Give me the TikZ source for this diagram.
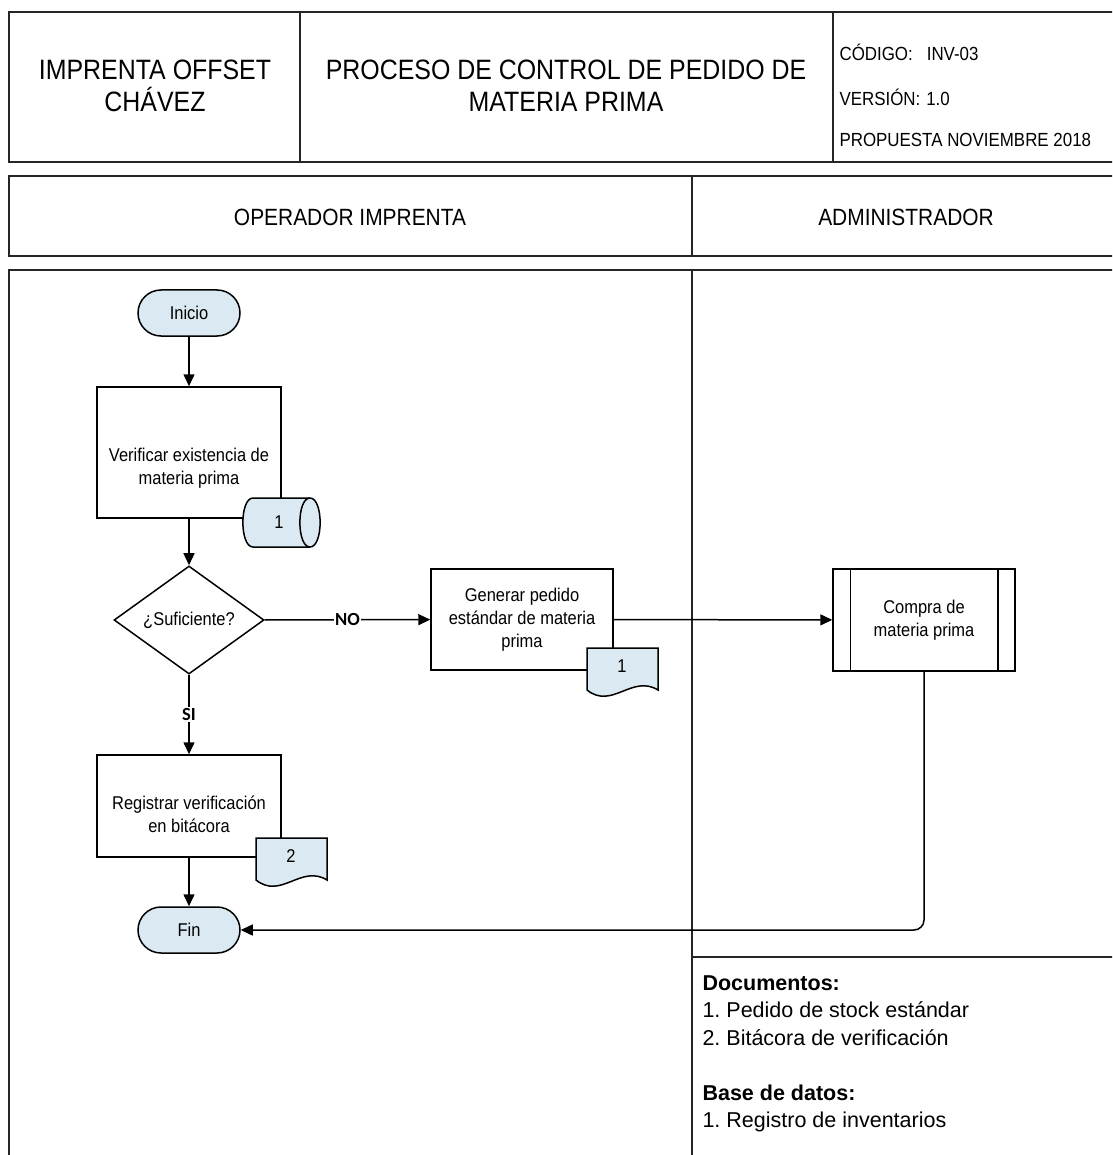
\documentclass[tikz,border=0pt]{standalone}
\usepackage{fontspec}
\setmainfont{Liberation Sans}
\newfontfamily\narrowfont[FakeStretch=0.89]{Liberation Sans}
\newfontfamily\labelfont{Carlito}
\usetikzlibrary{arrows.meta,shapes.geometric}
\definecolor{shapefill}{RGB}{219,234,242}
\frenchspacing

\begin{document}
\begin{tikzpicture}[x=1pt,y=-1pt,
  frame/.style={line width=1.6pt, draw=black!85},
  shape line/.style={line width=1.5pt, draw=black},
  flow/.style={line width=1.5pt, -{Triangle[length=12pt,width=11pt]}},
  txt/.style={font=\narrowfont\fontsize{18.5}{23}\selectfont, align=center},
  procbox/.style={shape line, rectangle, fill=white, inner sep=0pt, txt},
  terminal/.style={shape line, rectangle, rounded corners=23pt, fill=shapefill,
    minimum width=102pt, minimum height=46pt, inner sep=0pt, txt},
  decision/.style={shape line, diamond, fill=white, minimum width=150pt,
    minimum height=100pt, inner sep=0pt, txt},
  branch/.style={font=\labelfont\bfseries\fontsize{18.5}{20}\selectfont, fill=white, inner sep=1pt},
  headtxt/.style={font=\narrowfont\fontsize{28}{32}\selectfont, align=center},
  infotxt/.style={font=\narrowfont\fontsize{19}{22}\selectfont, anchor=west},
  lanetxt/.style={font=\narrowfont\fontsize{23.5}{26}\selectfont},
  notetxt/.style={font=\fontsize{21.5}{26}\selectfont, anchor=base west},
  docsym/.pic={
    \draw[shape line, fill=shapefill] (0,0) -- (0,42)
      .. controls (25,62) and (45,26) .. (71,42) -- (71,0) -- cycle;
  },
]
\useasboundingbox (0,0) rectangle (1112,1155);
\clip (0,0) rectangle (1112,1155);

% ---------- header block ----------
\draw[frame] (9,12) rectangle (1130,162);
\draw[frame] (300,12) -- (300,162);
\draw[frame] (833,12) -- (833,162);
\node[headtxt] (company) at (155,86) {IMPRENTA OFFSET\\CHÁVEZ};
\node[headtxt] (title) at (566,86) {PROCESO DE CONTROL DE PEDIDO DE\\MATERIA PRIMA};
\node[infotxt] (code) at (836,52) {CÓDIGO:\hspace{14pt}INV-03};
\node[infotxt] (version) at (836,97) {VERSIÓN:\hspace{6pt}1.0};
\node[infotxt] (proposal) at (836,140) {PROPUESTA NOVIEMBRE 2018};

% ---------- lane headers ----------
\draw[frame] (9,176) rectangle (1130,256);
\draw[frame] (692,176) -- (692,256);
\node[lanetxt] (lane1) at (350,217) {OPERADOR IMPRENTA};
\node[lanetxt] (lane2) at (906,217) {ADMINISTRADOR};

% ---------- lane bodies ----------
\draw[frame] (9,270) rectangle (1130,1170);
\draw[frame] (692,270) -- (692,1170);
\draw[frame] (692,957) -- (1130,957);

% ---------- flow shapes ----------
\node[terminal] (inicio) at (189,313) {Inicio};

\node[procbox, minimum width=184pt, minimum height=131pt] (verif) at (189,452.5) {};
\node[txt] (verifText) at (189,468) {Verificar existencia de\\materia prima};

% stored data (horizontal cylinder)
\draw[shape line, fill=shapefill] (253,498) -- (310,498)
  .. controls (323.5,498) and (323.5,547) .. (310,547) -- (253,547)
  .. controls (239.5,547) and (239.5,498) .. (253,498) -- cycle;
\draw[shape line] (310,498) .. controls (296.5,498) and (296.5,547) .. (310,547);
\node[txt] (db1) at (279,522) {1};

\node[decision] (dec) at (189,620) {¿Suficiente?};

\node[procbox, minimum width=182pt, minimum height=101pt] (gen) at (522,619.5)
  {Generar pedido\\estándar de materia\\prima};
\pic at (587,648) {docsym};
\node[txt] (doc1) at (622,666) {1};

\node[procbox, minimum width=182pt, minimum height=102pt] (compra) at (924,620)
  {Compra de\\materia prima};
\draw[shape line] ([xshift=18pt]compra.north west) -- ([xshift=18pt]compra.south west);
\draw[shape line] ([xshift=-18pt]compra.north east) -- ([xshift=-18pt]compra.south east);

\node[procbox, minimum width=184pt, minimum height=102pt] (reg) at (189,806) {};
\node[txt] (regText) at (189,814.5) {Registrar verificación\\en bitácora};
\pic at (256,838) {docsym};
\node[txt] (doc2) at (291,856) {2};

\node[terminal] (fin) at (189,930) {Fin};

% ---------- connectors ----------
\draw[flow] (inicio) -- (verif);
\draw[flow] (verif) -- (dec);
\draw[flow] (dec) -- node[branch] (no) {NO} (gen);
\draw[flow] (gen) -- (compra);
\draw[flow] (dec) -- node[branch] (si) {SI} (reg);
\draw[flow] (reg) -- (fin);
\draw[flow, rounded corners=10pt] (compra.south) |- (fin.east);

% ---------- notes ----------
\node[notetxt] (docsHead) at (699,990) {\textbf{Documentos:}};
\node[notetxt] (docA) at (699,1017.5) {1. Pedido de stock estándar};
\node[notetxt] (docB) at (699,1045) {2. Bitácora de verificación};
\node[notetxt] (dbHead) at (699,1100) {\textbf{Base de datos:}};
\node[notetxt] (dbA) at (699,1127.5) {1. Registro de inventarios};
\end{tikzpicture}
\end{document}
